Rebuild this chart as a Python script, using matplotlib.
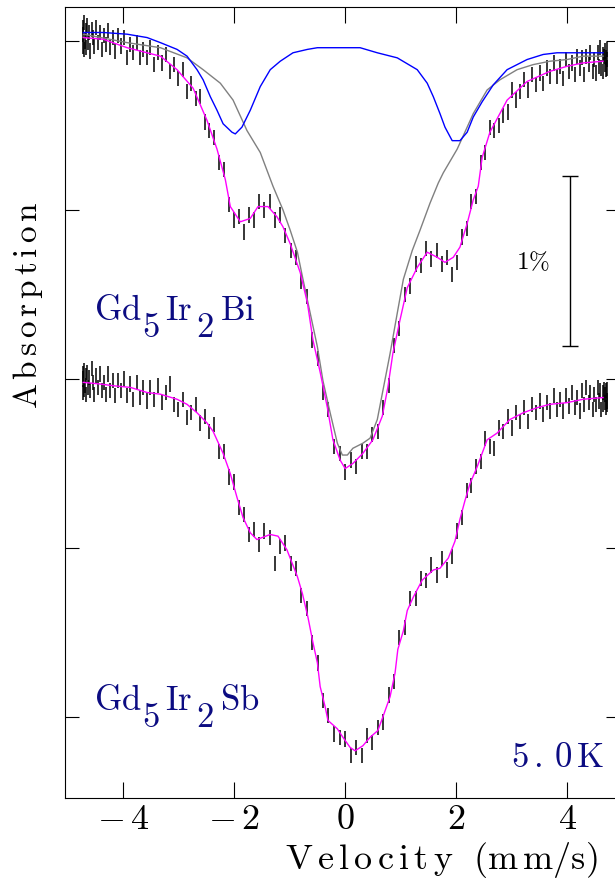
import matplotlib
matplotlib.use('Agg')
import matplotlib.pyplot as plt

plt.rcParams['mathtext.fontset'] = 'cm'

# --- velocity channels (mm/s), shared by both spectra ---
velocity = [-4.72, -4.72, -4.72, -4.71, -4.70, -4.69, -4.68, -4.67, -4.65, -4.64,
            -4.62, -4.60, -4.57, -4.55, -4.52, -4.49, -4.46, -4.42, -4.39, -4.35,
            -4.31, -4.27, -4.23, -4.18, -4.14, -4.09, -4.04, -3.99, -3.93, -3.88,
            -3.82, -3.76, -3.70, -3.64, -3.57, -3.51, -3.44, -3.37, -3.30, -3.23,
            -3.16, -3.08, -3.01, -2.93, -2.85, -2.77, -2.69, -2.61, -2.53, -2.45,
            -2.36, -2.27, -2.19, -2.10, -2.01, -1.92, -1.83, -1.74, -1.65, -1.55,
            -1.46, -1.36, -1.27, -1.17, -1.08, -0.98, -0.88, -0.79, -0.69, -0.59,
            -0.49, -0.40, -0.30, -0.20, -0.10, 0.00,
            0.10, 0.20, 0.30, 0.40, 0.49, 0.59, 0.69, 0.79, 0.88, 0.98,
            1.08, 1.17, 1.27, 1.36, 1.46, 1.55, 1.65, 1.74, 1.83, 1.92,
            2.01, 2.10, 2.19, 2.27, 2.36, 2.45, 2.53, 2.61, 2.69, 2.77,
            2.85, 2.93, 3.01, 3.08, 3.16, 3.23, 3.30, 3.37, 3.44, 3.51,
            3.57, 3.64, 3.70, 3.76, 3.82, 3.88, 3.93, 3.99, 4.04, 4.09,
            4.14, 4.18, 4.23, 4.27, 4.31, 4.35, 4.39, 4.42, 4.46, 4.49,
            4.52, 4.55, 4.57, 4.60, 4.62, 4.64, 4.65, 4.67, 4.68, 4.69,
            4.70, 4.71, 4.72, 4.72, 4.72]

# absorption in %, as plotted (Sb spectrum shifted down by 2 %)
bi_data = [0.08, -0.03, 0.04, -0.05, 0.11, 0.00, 0.06, -0.04, 0.09, -0.01,
           0.05, -0.06, 0.07, 0.02, -0.03, 0.08, -0.01, 0.05, -0.05, 0.03,
           -0.02, 0.06, -0.04, 0.02, -0.06, 0.03, -0.03, 0.02, -0.10, -0.02,
           -0.07, -0.01, -0.10, -0.05, -0.10, -0.04, -0.14, -0.07, -0.13, -0.08,
           -0.18, -0.14, -0.22, -0.17, -0.30, -0.25, -0.34, -0.33, -0.48, -0.53,
           -0.57, -0.72, -0.76, -0.97, -1.06, -1.04, -1.13, -1.03, -1.06, -0.95,
           -1.00, -0.95, -1.06, -1.03, -1.15, -1.24, -1.28, -1.42, -1.51, -1.77,
           -1.88, -2.08, -2.18, -2.40, -2.44, -2.55,
           -2.48, -2.52, -2.43, -2.43, -2.33, -2.31, -2.17, -2.04, -1.80, -1.70,
           -1.50, -1.45, -1.32, -1.33, -1.23, -1.29, -1.24, -1.32, -1.28, -1.38,
           -1.31, -1.16, -1.11, -0.95, -0.92, -0.72, -0.66, -0.51, -0.53, -0.50,
           -0.44, -0.42, -0.29, -0.35, -0.30, -0.23, -0.29, -0.20, -0.26, -0.19,
           -0.25, -0.16, -0.21, -0.13, -0.21, -0.15, -0.22, -0.11, -0.18, -0.13,
           -0.20, -0.09, -0.16, -0.10, -0.20, -0.09, -0.14, -0.07, -0.18, -0.11,
           -0.19, -0.07, -0.15, -0.04, -0.16, -0.08, -0.18, -0.09, -0.14, -0.06,
           -0.17, -0.10, -0.05, -0.16, -0.11]

sb_data = [-1.97, -2.08, -2.00, -2.06, -1.95, -2.04, -1.98, -2.09, -1.96, -2.05,
           -1.99, -2.07, -1.94, -2.02, -2.09, -1.98, -2.05, -1.97, -2.07, -2.02,
           -2.09, -1.97, -2.07, -2.01, -2.10, -2.01, -2.07, -2.00, -2.10, -2.03,
           -2.12, -2.02, -2.11, -2.05, -2.13, -2.05, -2.12, -2.04, -2.14, -2.08,
           -2.03, -2.15, -2.18, -2.12, -2.23, -2.20, -2.15, -2.26, -2.22, -2.31,
           -2.27, -2.43, -2.43, -2.58, -2.61, -2.76, -2.80, -2.92, -2.89, -2.98,
           -2.90, -2.94, -3.09, -2.99, -2.97, -3.09, -3.12, -3.28, -3.36, -3.56,
           -3.68, -3.90, -3.99, -4.10, -4.12, -4.13,
           -4.23, -4.18, -4.23, -4.11, -4.15, -4.06, -4.03, -3.87, -3.79, -3.53,
           -3.47, -3.30, -3.30, -3.18, -3.19, -3.10, -3.16, -3.06, -3.13, -3.05,
           -2.90, -2.82, -2.66, -2.63, -2.52, -2.49, -2.35, -2.40, -2.41, -2.29,
           -2.31, -2.22, -2.29, -2.20, -2.25, -2.17, -2.25, -2.15, -2.20, -2.13,
           -2.21, -2.14, -2.19, -2.10, -2.18, -2.12, -2.19, -2.10, -2.16, -2.08,
           -2.17, -2.11, -2.19, -2.07, -2.15, -2.05, -2.14, -2.08, -2.18, -2.09,
           -2.15, -2.05, -2.13, -2.07, -2.18, -2.08, -2.15, -2.06, -2.14, -2.09,
           -2.17, -2.07, -2.13, -2.06, -2.15]

data_err = 0.045

# --- fitted curves ---
bi_fit_v = [-4.72, -4.36, -3.93, -3.33, -3.03, -2.74, -2.49, -2.31, -2.16, -2.07,
            -1.89, -1.71, -1.57, -1.39, -1.23, -1.12, -0.99, -0.81, -0.68, -0.58,
            -0.45, -0.32, -0.22, -0.09, 0.00, 0.14, 0.32, 0.50, 0.67, 0.77,
            0.86, 0.99, 1.12, 1.30, 1.48, 1.66, 1.80, 1.95, 2.07, 2.20,
            2.31, 2.40, 2.47, 2.61, 2.92, 3.28, 3.69, 4.00, 4.29, 4.65]
bi_fit = [0.02, 0.01, -0.04, -0.09, -0.17, -0.28, -0.47, -0.64, -0.82, -0.98,
          -1.07, -1.05, -0.98, -0.98, -1.04, -1.10, -1.20, -1.37, -1.55, -1.77,
          -1.96, -2.17, -2.36, -2.48, -2.53, -2.50, -2.44, -2.36, -2.22, -2.05,
          -1.85, -1.65, -1.46, -1.34, -1.25, -1.28, -1.31, -1.28, -1.22, -1.08,
          -0.94, -0.86, -0.69, -0.54, -0.35, -0.24, -0.18, -0.15, -0.13, -0.12]

gray_v = [-4.72, -3.93, -3.33, -2.85, -2.56, -2.25, -2.02, -1.77, -1.53, -1.30,
          -1.12, -0.99, -0.86, -0.76, -0.63, -0.50, -0.40, -0.27, -0.14, -0.05,
          0.04, 0.14, 0.32, 0.45, 0.58, 0.68, 0.81, 0.94, 1.05, 1.21,
          1.35, 1.53, 1.68, 1.77, 2.02, 2.20, 2.31, 2.56, 2.79, 3.10,
          3.39, 3.69, 4.00, 4.29, 4.65]
gray_fit = [0.04, -0.01, -0.04, -0.10, -0.17, -0.25, -0.35, -0.53, -0.66, -0.86,
            -1.00, -1.12, -1.25, -1.41, -1.61, -1.81, -2.01, -2.20, -2.38, -2.45,
            -2.45, -2.41, -2.38, -2.35, -2.24, -2.07, -1.85, -1.61, -1.41, -1.24,
            -1.12, -0.96, -0.84, -0.78, -0.64, -0.51, -0.43, -0.29, -0.23, -0.17,
            -0.14, -0.12, -0.11, -0.09, -0.09]

blue_v = [-4.72, -4.36, -3.93, -3.57, -3.33, -3.03, -2.85, -2.67, -2.56, -2.43,
          -2.31, -2.20, -2.04, -1.98, -1.86, -1.71, -1.53, -1.35, -1.17, -0.94,
          -0.68, -0.50, 0.27, 0.58, 0.94, 1.30, 1.48, 1.59, 1.71, 1.80,
          1.93, 2.07, 2.20, 2.31, 2.47, 2.67, 2.92, 3.28, 3.57, 3.82, 4.65]
blue_fit = [0.05, 0.05, 0.04, 0.02, -0.01, -0.05, -0.09, -0.17, -0.23, -0.33,
            -0.41, -0.49, -0.54, -0.55, -0.51, -0.41, -0.27, -0.17, -0.12, -0.07,
            -0.05, -0.04, -0.04, -0.07, -0.10, -0.17, -0.25, -0.33, -0.43, -0.51,
            -0.59, -0.59, -0.54, -0.45, -0.36, -0.26, -0.17, -0.11, -0.08, -0.07, -0.07]

sb_fit_v = [-4.72, -4.41, -4.18, -3.87, -3.57, -3.33, -3.03, -2.85, -2.67, -2.49,
            -2.38, -2.20, -2.07, -1.95, -1.84, -1.71, -1.59, -1.35, -1.21, -1.05,
            -0.86, -0.77, -0.67, -0.58, -0.50, -0.45, -0.36, -0.31, -0.14, -0.04,
            0.09, 0.18, 0.32, 0.45, 0.59, 0.68, 0.81, 0.90, 0.95, 1.05,
            1.12, 1.23, 1.39, 1.59, 1.71, 1.86, 1.98, 2.07, 2.16, 2.25,
            2.38, 2.56, 2.74, 2.97, 3.21, 3.46, 3.69, 4.00, 4.29, 4.65]
sb_fit = [-2.02, -2.03, -2.04, -2.05, -2.08, -2.09, -2.12, -2.15, -2.20, -2.26,
          -2.31, -2.44, -2.56, -2.70, -2.82, -2.91, -2.95, -2.92, -2.93, -3.01,
          -3.17, -3.27, -3.41, -3.56, -3.68, -3.82, -3.94, -4.02, -4.07, -4.12,
          -4.18, -4.20, -4.17, -4.12, -4.08, -4.00, -3.88, -3.74, -3.60, -3.49,
          -3.37, -3.29, -3.19, -3.13, -3.12, -3.06, -2.96, -2.83, -2.72, -2.62,
          -2.52, -2.36, -2.32, -2.24, -2.20, -2.17, -2.15, -2.14, -2.12, -2.11]

x_ticks = [-4, -2, 0, 2, 4]
x_tick_labels = [r'$-\,4$', r'$-\,2$', r'$0$', r'$2$', r'$4$']
y_ticks = [0, -1, -2, -3, -4]

# sample labels split into pieces: (text, left x in px, subscript?)
bi_label = [('Gd', 94, False), ('5', 142, True), ('Ir', 165, False),
            ('2', 196, True), ('Bi', 220, False)]
sb_label = [('Gd', 94, False), ('5', 142, True), ('Ir', 165, False),
            ('2', 196, True), ('Sb', 220, False)]

NAVY = '#0c0c82'
W, H = 615, 883

fig = plt.figure(figsize=(6.15, 8.83), dpi=100)
ax = fig.add_axes([0.1057, 0.0963, 0.9024, 0.8958])

ax.errorbar(velocity, bi_data, yerr=data_err, fmt='none', ecolor='black',
            elinewidth=1.1, capsize=0)
ax.errorbar(velocity, sb_data, yerr=data_err, fmt='none', ecolor='black',
            elinewidth=1.1, capsize=0)
ax.plot(gray_v, gray_fit, color='#808080', lw=1.0)
ax.plot(blue_v, blue_fit, color='#0000ff', lw=1.0)
ax.plot(bi_fit_v, bi_fit, color='#ff00ff', lw=1.0)
ax.plot(sb_fit_v, sb_fit, color='#ff00ff', lw=1.0)

# 1 % scale bar
ax.errorbar([4.05], [-1.30], yerr=0.503, fmt='none', ecolor='black',
            elinewidth=1.0, capsize=6, capthick=1.0)
ax.text(3.39, -1.31, r'$\mathbf{1\%}$', fontsize=18, ha='center', va='center')

ax.set_xlim(-5.05, 4.955)
ax.set_ylim(-4.479, 0.201)
ax.set_xticks(x_ticks)
ax.set_xticklabels(x_tick_labels, fontsize=26)
ax.set_yticks(y_ticks)
ax.set_yticklabels([])
ax.tick_params(axis='x', direction='in', length=11.5, width=0.8, top=True, pad=3)
ax.tick_params(axis='y', direction='in', length=10, width=0.8, right=True)
for s in ax.spines.values():
    s.set_linewidth(0.8)

for label, base in [(bi_label, 320), (sb_label, 710)]:
    for txt, xpx, sub in label:
        ypx = base + 17 if sub else base
        fig.text(xpx / W, 1 - ypx / H, r'$\mathrm{' + txt + '}$',
                 fontsize=25, color=NAVY, ha='left', va='baseline')

fig.text(604 / W, 1 - 767 / H, r'$\mathrm{5\,.\,0\,K}$',
         fontsize=25, color=NAVY, ha='right', va='baseline')

fig.text(28 / W, 1 - 305 / H, r'$\mathrm{A\,b\,s\,o\,r\,p\,t\,i\,o\,n}$',
         fontsize=24, rotation=90, ha='center', va='center')
fig.text(441 / W, 1 - 869 / H, r'$\mathrm{V\,e\,l\,o\,c\,i\,t\,y\ \ (m\,m/s)}$',
         fontsize=26, ha='center', va='baseline')

fig.savefig('out.png', dpi=100)
